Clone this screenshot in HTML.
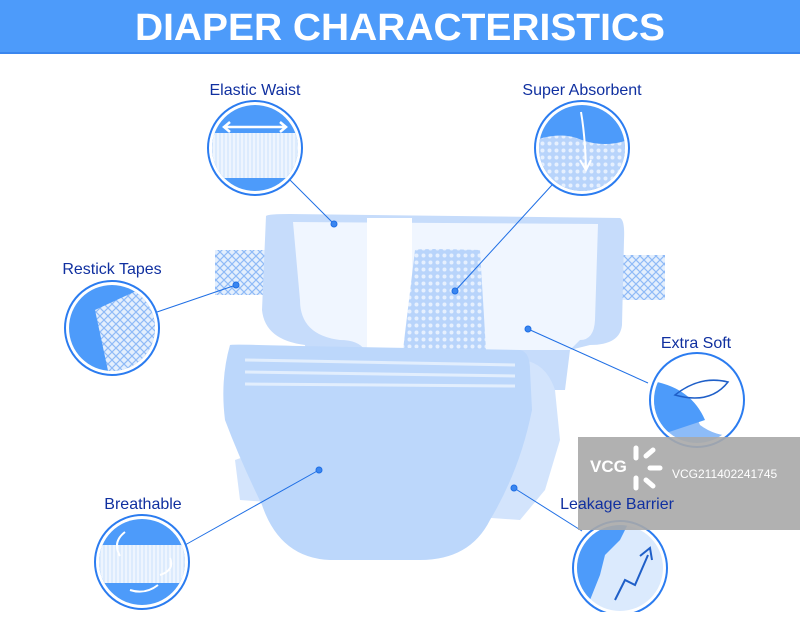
<!DOCTYPE html>
<html><head><meta charset="utf-8"><style>
body{margin:0;width:800px;height:612px;overflow:hidden;background:#fff;font-family:"Liberation Sans",sans-serif}
</style></head><body>
<svg width="800" height="612" viewBox="0 0 800 612" xmlns="http://www.w3.org/2000/svg" font-family="Liberation Sans, sans-serif">
<defs>
<pattern id="dots" width="7" height="7" patternUnits="userSpaceOnUse"><rect width="7" height="7" fill="#b8d4fb"/><circle cx="3.5" cy="3.5" r="2" fill="#e6f0fe"/></pattern>
<pattern id="mesh" width="8" height="8" patternUnits="userSpaceOnUse"><rect width="8" height="8" fill="#e4effd"/><path d="M0 0L8 8M8 0L0 8" stroke="#8fbaf7" stroke-width="1.2"/></pattern>
<pattern id="lines" width="4" height="10" patternUnits="userSpaceOnUse"><rect width="4" height="10" fill="#dcebfd"/><path d="M2 0V10" stroke="#fff" stroke-width="1"/></pattern>
<clipPath id="c1"><circle cx="255" cy="148" r="43"/></clipPath>
<clipPath id="c2"><circle cx="582" cy="148" r="43"/></clipPath>
<clipPath id="c3"><circle cx="112" cy="328" r="43"/></clipPath>
<clipPath id="c4"><circle cx="697" cy="400" r="43"/></clipPath>
<clipPath id="c5"><circle cx="142" cy="562" r="43"/></clipPath>
<clipPath id="c6"><circle cx="620" cy="568" r="43"/></clipPath>
</defs>
<rect width="800" height="52" fill="#4d9bfa"/>
<rect y="52" width="800" height="2" fill="#3a86ee"/>
<text x="400" y="40" text-anchor="middle" font-size="38" font-weight="bold" fill="#fff" textLength="530" lengthAdjust="spacingAndGlyphs">DIAPER CHARACTERISTICS</text>

<!-- diaper -->
<rect x="215" y="250" width="65" height="45" fill="url(#mesh)"/>
<rect x="605" y="255" width="60" height="45" fill="url(#mesh)"/>
<path d="M266 216 Q268 214 290 214 L620 218 Q625 220 624 240 L622 325 Q620 345 590 345 L570 350 L565 390 L310 390 L305 345 Q265 340 262 310 Z" fill="#c6dcfb"/>
<path d="M293 222 L598 224 L595 320 Q594 340 580 340 L570 350 L365 350 Q358 340 340 340 Q300 335 300 300 Z" fill="#f0f6ff"/>
<rect x="367" y="218" width="45" height="135" fill="#fff"/>
<path d="M415 250 Q420 248 480 250 L486 350 L403 350 Z" fill="url(#dots)"/>
<path d="M518 360 Q545 360 555 390 L560 440 L545 490 L520 520 L240 500 L235 460 L520 360 Z" fill="#d3e4fc"/>
<path d="M230 345 Q232 344 300 346 L520 350 Q530 352 530 370 L532 410 Q520 470 490 520 Q470 560 420 560 L330 560 Q280 558 262 505 Q240 460 225 420 Q220 380 230 345 Z" fill="#bcd7fb"/>
<path d="M245 360 L515 365 M245 372 L515 376 M245 384 L515 386" stroke="#e2eefd" stroke-width="3"/>

<!-- connectors -->
<g stroke="#1f6fe5" stroke-width="1" fill="#3a86f0">
<line x1="290" y1="180" x2="334" y2="224"/><circle cx="334" cy="224" r="3"/>
<line x1="552" y1="185" x2="455" y2="291"/><circle cx="455" cy="291" r="3"/>
<line x1="157" y1="312" x2="236" y2="285"/><circle cx="236" cy="285" r="3"/>
<line x1="648" y1="383" x2="528" y2="329"/><circle cx="528" cy="329" r="3"/>
<line x1="185" y1="545" x2="319" y2="470"/><circle cx="319" cy="470" r="3"/>
<line x1="582" y1="531" x2="514" y2="488"/><circle cx="514" cy="488" r="3"/>
</g>

<!-- circles -->
<g>
<g clip-path="url(#c1)"><rect x="200" y="100" width="110" height="100" fill="#4d9bfa"/><rect x="200" y="133" width="110" height="45" fill="url(#lines)"/></g>
<path d="M224 127 H286 M230 122 L224 127 L230 132 M280 122 L286 127 L280 132" stroke="#fff" stroke-width="2.5" fill="none"/>
<circle cx="255" cy="148" r="47" fill="none" stroke="#2b7cf0" stroke-width="2"/>
<g clip-path="url(#c2)"><rect x="530" y="100" width="110" height="100" fill="#4d9bfa"/><path d="M530 142 Q560 130 582 140 Q610 150 640 135 V200 H530Z" fill="url(#dots)"/></g>
<path d="M581 112 Q585 135 586 168 M580 160 L586 170 L591 160" stroke="#fff" stroke-width="2" fill="none"/>
<circle cx="582" cy="148" r="47" fill="none" stroke="#2b7cf0" stroke-width="2"/>
<g clip-path="url(#c3)"><rect x="60" y="280" width="110" height="100" fill="#4d9bfa"/><path d="M95 310 L160 280 V380 H110 Z" fill="url(#mesh)"/></g>
<circle cx="112" cy="328" r="47" fill="none" stroke="#2b7cf0" stroke-width="2"/>
<g clip-path="url(#c4)"><rect x="645" y="350" width="110" height="100" fill="#fff"/><path d="M645 400 Q690 400 700 425 Q720 440 750 435 V450 H645Z" fill="#8dbcf8"/><path d="M645 380 Q690 385 705 420 L645 440Z" fill="#4d9bfa"/></g>
<path d="M675 395 Q700 375 728 382 Q710 405 675 395 Z" fill="none" stroke="#1f5fc8" stroke-width="1.5"/>
<circle cx="697" cy="400" r="47" fill="none" stroke="#2b7cf0" stroke-width="2"/>
<g clip-path="url(#c5)"><rect x="90" y="515" width="110" height="100" fill="#4d9bfa"/><rect x="90" y="545" width="110" height="38" fill="url(#lines)"/></g>
<path d="M125 532 Q112 542 120 556 M160 575 Q175 570 170 558 M130 590 Q145 595 158 585" stroke="#fff" stroke-width="2" fill="none"/>
<circle cx="142" cy="562" r="47" fill="none" stroke="#2b7cf0" stroke-width="2"/>
<g clip-path="url(#c6)"><rect x="570" y="520" width="110" height="100" fill="#dbeafd"/><path d="M570 520 H630 L620 540 L605 555 L600 575 L590 600 L570 610Z" fill="#4d9bfa"/></g>
<path d="M615 600 L625 580 L635 585 L648 555 M640 556 L650 548 L652 560" stroke="#1f5fc8" stroke-width="2" fill="none"/>
<circle cx="620" cy="568" r="47" fill="none" stroke="#2b7cf0" stroke-width="2"/>
</g>

<!-- labels -->
<g fill="#1030a0" font-size="16" text-anchor="middle">
<text x="255" y="95">Elastic Waist</text>
<text x="582" y="95">Super Absorbent</text>
<text x="112" y="274">Restick Tapes</text>
<text x="696" y="348">Extra Soft</text>
<text x="143" y="509">Breathable</text>
</g>

<!-- watermark -->
<rect x="578" y="437" width="222" height="93" fill="#a9a9a9" opacity="0.9"/>
<text x="590" y="472" font-size="17" font-weight="bold" fill="#fff">VCG</text>
<g stroke="#fff" stroke-width="5" stroke-linecap="round"><line x1="636" y1="448" x2="636" y2="458"/><line x1="636" y1="478" x2="636" y2="488"/><line x1="650" y1="468" x2="660" y2="468"/><line x1="646" y1="456" x2="653" y2="450"/><line x1="646" y1="480" x2="653" y2="486"/></g>
<text x="672" y="478" font-size="12" fill="#fff">VCG211402241745</text>
<text x="617" y="509" text-anchor="middle" font-size="16" fill="#1030a0">Leakage Barrier</text>
</svg>
</body></html>
